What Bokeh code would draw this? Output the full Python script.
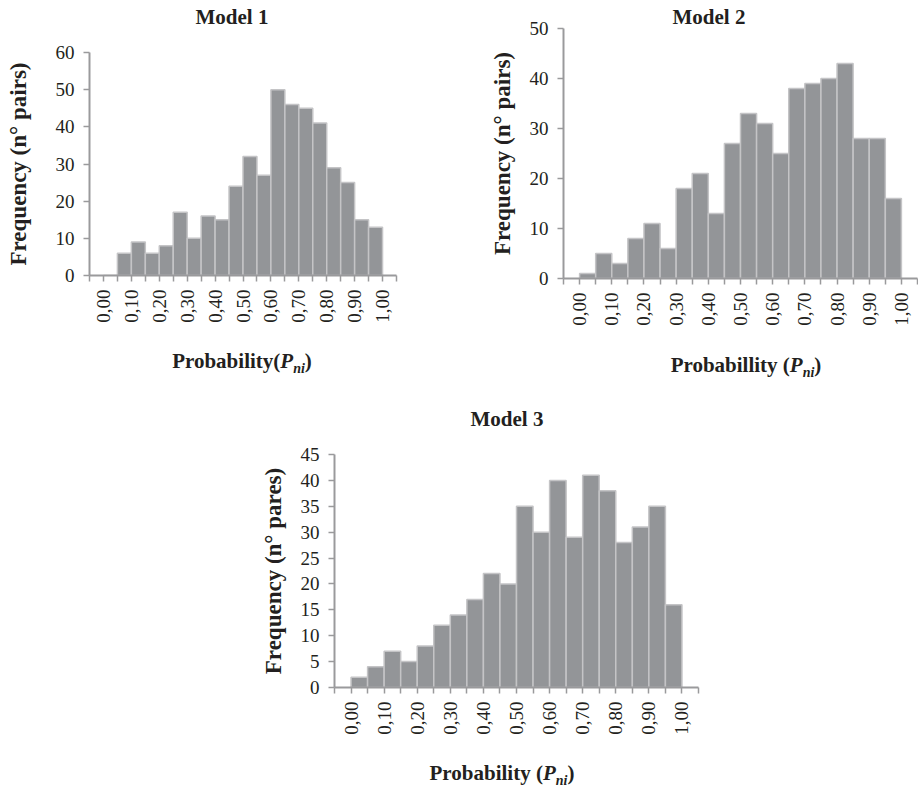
from bokeh.plotting import figure
from bokeh.layouts import column, row
from bokeh.models import FixedTicker, Spacer, Div
from bokeh.embed import file_html
from bokeh.resources import INLINE

# ---- data ----
bin_edges = [0.00, 0.05, 0.10, 0.15, 0.20, 0.25, 0.30, 0.35, 0.40, 0.45, 0.50,
             0.55, 0.60, 0.65, 0.70, 0.75, 0.80, 0.85, 0.90, 0.95, 1.00]
model1_counts = [0, 6, 9, 6, 8, 17, 10, 16, 15, 24, 32, 27, 50, 46, 45, 41, 29, 25, 15, 13]
model2_counts = [1, 5, 3, 8, 11, 6, 18, 21, 13, 27, 33, 31, 25, 38, 39, 40, 43, 28, 28, 16]
model3_counts = [2, 4, 7, 5, 8, 12, 14, 17, 22, 20, 35, 30, 40, 29, 41, 38, 28, 31, 35, 16]

x_tick_values = [0.0, 0.1, 0.2, 0.3, 0.4, 0.5, 0.6, 0.7, 0.8, 0.9, 1.0]
x_tick_labels = ["0,00", "0,10", "0,20", "0,30", "0,40", "0,50",
                 "0,60", "0,70", "0,80", "0,90", "1,00"]
x_minor_ticks = [-0.05, 0.05, 0.15, 0.25, 0.35, 0.45, 0.55, 0.65, 0.75, 0.85, 0.95, 1.05]

y1_ticks = [0, 10, 20, 30, 40, 50, 60]
y2_ticks = [0, 10, 20, 30, 40, 50]
y3_ticks = [0, 5, 10, 15, 20, 25, 30, 35, 40, 45]

titles = ["Model 1", "Model 2", "Model 3"]
y_labels = ["Frequency (n° pairs)", "Frequency (n° pairs)", "Frequency (n° pares)"]
x_label_main = ["Probability(", "Probabillity (", "Probability ("]

FONT = "Liberation Serif"
TXT = "#231f20"
AXIS = "#9a9a9c"
BAR = "#939598"
BAR_EDGE = "#c4c4c6"


def make_chart(counts, yticks, ylabel, width, height, bl, br, bt, bb, ylabel_standoff,
               title=None, title_offset=0):
    p = figure(width=width, height=height, x_range=(-0.05, 1.05),
               y_range=(0, yticks[-1]), output_backend="svg", toolbar_location=None,
               min_border_left=bl, min_border_right=br, min_border_top=bt,
               min_border_bottom=bb)
    p.outline_line_color = None
    p.grid.visible = False
    p.background_fill_color = "white"
    p.border_fill_color = "white"
    p.quad(left=bin_edges[:-1], right=bin_edges[1:], bottom=0, top=counts,
           fill_color=BAR, line_color=BAR_EDGE, line_width=1.5)

    if title is not None:
        p.title.text = title
        p.title.text_font = FONT
        p.title.text_font_style = "bold"
        p.title.text_font_size = "21px"
        p.title.text_color = TXT
        p.title.align = "left"
        p.title.offset = title_offset
        p.title.vertical_align = "bottom"
        p.title.standoff = 0

    xa = p.xaxis[0]
    xa.ticker = FixedTicker(ticks=x_tick_values, minor_ticks=x_minor_ticks)
    xa.major_label_overrides = dict(zip(x_tick_values, x_tick_labels))
    xa.major_label_orientation = 1.5707963267948966
    xa.major_label_text_font = FONT
    xa.major_label_text_font_size = "19px"
    xa.major_label_text_color = TXT
    xa.major_label_standoff = 8
    xa.axis_line_color = AXIS
    xa.axis_line_width = 2
    xa.major_tick_line_color = AXIS
    xa.minor_tick_line_color = AXIS
    xa.major_tick_line_width = 1.5
    xa.minor_tick_line_width = 1.5
    xa.major_tick_in = 0
    xa.major_tick_out = 6
    xa.minor_tick_in = 0
    xa.minor_tick_out = 6

    ya = p.yaxis[0]
    ya.ticker = FixedTicker(ticks=yticks, minor_ticks=[])
    ya.major_label_text_font = FONT
    ya.major_label_text_font_size = "19px"
    ya.major_label_text_color = TXT
    ya.major_label_standoff = 9
    ya.axis_line_color = AXIS
    ya.axis_line_width = 2
    ya.major_tick_line_color = AXIS
    ya.major_tick_line_width = 1.5
    ya.major_tick_in = 0
    ya.major_tick_out = 6
    ya.axis_label = ylabel
    ya.axis_label_text_font = FONT
    ya.axis_label_text_font_style = "bold"
    ya.axis_label_text_font_size = "23px"
    ya.axis_label_text_color = TXT
    ya.axis_label_standoff = ylabel_standoff
    return p


def text_div(inner, width, height, center, top):
    html = (
        f'<div style="width:260px; margin-left:{center - 130}px; margin-top:{top}px; '
        f'text-align:center; white-space:nowrap; font-family:\'{FONT}\'; font-size:21px; '
        f'line-height:21px; font-weight:bold; color:{TXT};">{inner}</div>'
    )
    return Div(text=html, width=width, height=height, margin=0)


def xlabel_inner(main):
    return (f'{main}<i>P</i><i style="font-size:14px; position:relative; '
            f'top:5px;">ni</i>)')


# Chart 1: frame left 89, right 396, top 52, bottom 275
t1 = text_div(titles[0], 468, 40, 232, 7)
p1 = make_chart(model1_counts, y1_ticks, y_labels[0], 468, 305, 89, 72, 12, 70, 22)
d1 = text_div(xlabel_inner(x_label_main[0]), 468, 55, 242, 6)

# Chart 2: frame left 563, right 917, top 28, bottom 278
p2 = make_chart(model2_counts, y2_ticks, y_labels[1], 450, 345, 95, 1, 28, 67, 12,
                title=titles[1], title_offset=109)
d2 = text_div(xlabel_inner(x_label_main[1]), 450, 55, 278, 10)

# Chart 3: frame left 334, right 698, top 454, bottom 687
t3 = text_div(titles[2], 468, 40, 257, 9)
p3 = make_chart(model3_counts, y3_ticks, y_labels[2], 468, 310, 84, 20, 14, 63, 12)
d3 = text_div(xlabel_inner(x_label_main[2]), 468, 42, 252, 13)

layout = column(
    row(column(t1, p1, d1, spacing=0), column(p2, d2, spacing=0), spacing=0),
    row(Spacer(width=250, height=392), column(t3, p3, d3, spacing=0), spacing=0),
    spacing=0)

open("out.html", "w").write(file_html(layout, INLINE))
